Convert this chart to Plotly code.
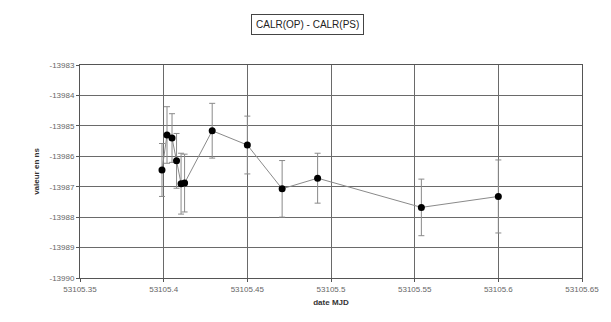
import plotly.graph_objects as go

dates = [53105.399, 53105.402, 53105.405, 53105.4077, 53105.4104, 53105.4125,
         53105.429, 53105.450, 53105.4708, 53105.492, 53105.554, 53105.600]
values = [-13986.45, -13985.30, -13985.40, -13986.15, -13986.90, -13986.88,
          -13985.16, -13985.63, -13987.07, -13986.72, -13987.68, -13987.32]
errors = [0.87, 0.93, 0.80, 0.90, 1.00, 0.95,
          0.90, 0.95, 0.93, 0.82, 0.93, 1.20]

x_ticks = [53105.35, 53105.4, 53105.45, 53105.5, 53105.55, 53105.6, 53105.65]
x_labels = ["53105.35", "53105.4", "53105.45", "53105.5", "53105.55", "53105.6", "53105.65"]
y_ticks = [-13983, -13984, -13985, -13986, -13987, -13988, -13989, -13990]
y_labels = ["-13983", "-13984", "-13985", "-13986", "-13987", "-13988", "-13989", "-13990"]

fig = go.Figure()
fig.add_trace(go.Scatter(
    x=dates, y=values, mode="lines+markers",
    line=dict(color="#8a8a8a", width=1),
    marker=dict(symbol="circle", size=7, color="black"),
    error_y=dict(type="data", array=errors, visible=True,
                 color="#8a8a8a", thickness=1, width=3),
    showlegend=False,
))

font = "Liberation Sans, Arial, sans-serif"
fig.update_layout(
    width=611, height=322,
    margin=dict(l=80, r=29, t=65, b=44),
    paper_bgcolor="white", plot_bgcolor="white",
    font=dict(family=font, size=8, color="#555"),
    xaxis=dict(range=[53105.35, 53105.65], tickvals=x_ticks, ticktext=x_labels,
               showgrid=True, gridcolor="#6a6a6a", gridwidth=1,
               showline=True, linecolor="#555", mirror=True,
               ticks="outside", ticklen=3, tickcolor="#555", zeroline=False,
               tickfont=dict(size=8, color="#666"),
               title=dict(text="<b>date MJD</b>", font=dict(size=8, color="#333"), standoff=6)),
    yaxis=dict(range=[-13990, -13983], tickvals=y_ticks, ticktext=y_labels,
               showgrid=True, gridcolor="#6a6a6a", gridwidth=1,
               showline=True, linecolor="#555", mirror=True,
               ticks="outside", ticklen=3, tickcolor="#555", zeroline=False,
               tickfont=dict(size=8, color="#666"),
               title=dict(text="<b>valeur en ns</b>", font=dict(size=8, color="#333"), standoff=8)),
    annotations=[dict(text="CALR(OP) - CALR(PS)", x=0.453, xref="x domain", y=1.19, yref="y domain",
                      showarrow=False, font=dict(size=10, color="#222", family=font),
                      bordercolor="#444", borderwidth=1, borderpad=4,
                      yanchor="middle")],
)
fig.write_html("out.html")
